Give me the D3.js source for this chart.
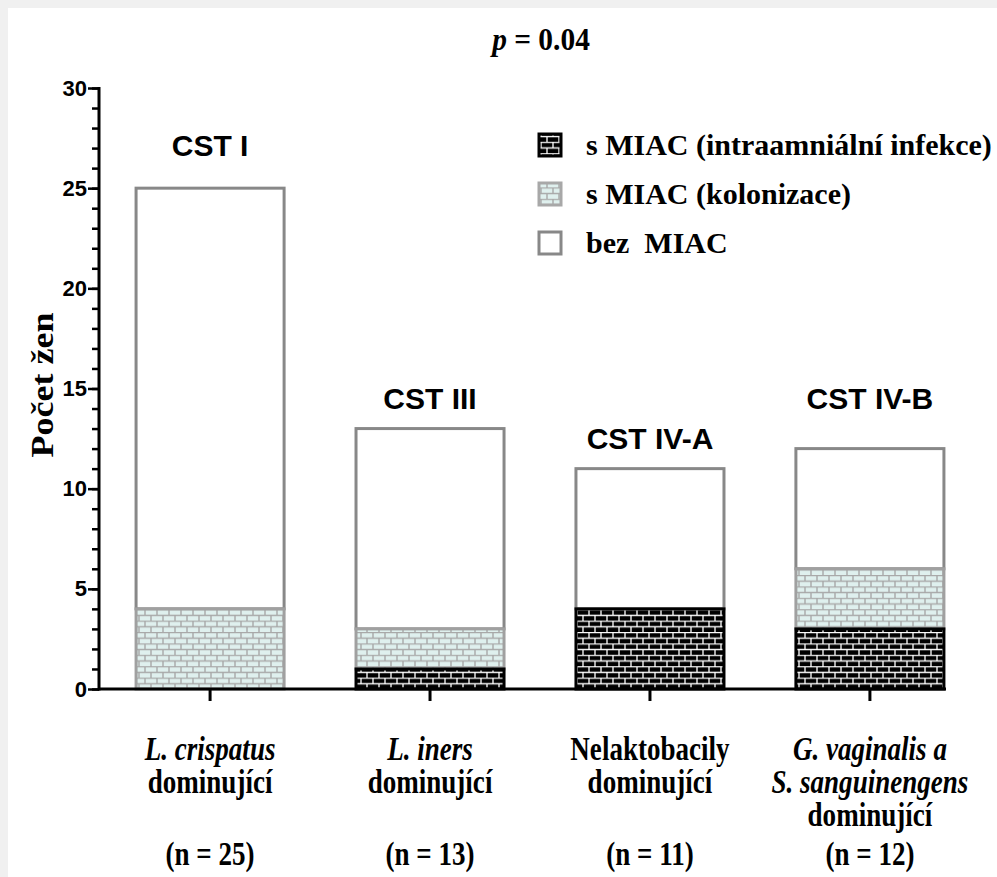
<!DOCTYPE html>
<html>
<head>
<meta charset="utf-8">
<script src="https://cdn.jsdelivr.net/npm/d3@7"></script>
<style>
html,body{margin:0;padding:0;background:#f0f0f0;}
svg{display:block;}
</style>
</head>
<body>
<svg id="chart" width="997" height="877"></svg>
<script>
// ---- data ----
const categories = ["crispatus", "iners", "nelakto", "gvag"];
const intraamnialni = [0, 1, 4, 3];
const kolonizace = [4, 2, 0, 3];
const bezMIAC = [21, 10, 7, 6];
const cstLabels = ["CST I", "CST III", "CST IV-A", "CST IV-B"];
const cstLabelY = [26.6, 14.0, 12.0, 14.0];
const xLabelLines = [
  [[{t:"L. crispatus", i:true}], [{t:"dominující", i:false}], [], [{t:"(n = 25)", i:false}]],
  [[{t:"L. iners", i:true}], [{t:"dominující", i:false}], [], [{t:"(n = 13)", i:false}]],
  [[{t:"Nelaktobacily", i:false}], [{t:"dominující", i:false}], [], [{t:"(n = 11)", i:false}]],
  [[{t:"G. vaginalis a", i:true}], [{t:"S. sanguinengens", i:true}], [{t:"dominující", i:false}], [{t:"(n = 12)", i:false}]]
];
const legendLabels = ["s MIAC (intraamniální infekce)", "s MIAC (kolonizace)", "bez  MIAC"];
const yTicksMajor = [0, 5, 10, 15, 20, 25, 30];

// ---- setup ----
const svg = d3.select("#chart");
svg.append("rect").attr("x", 8).attr("y", 8).attr("width", 989).attr("height", 869).attr("fill", "#fff");

const defs = svg.append("defs");
function brick(id, bg, line, lw) {
  const w = 12, h = 11.4;
  const p = defs.append("pattern").attr("id", id).attr("patternUnits", "userSpaceOnUse")
    .attr("width", w).attr("height", h).attr("x", 0).attr("y", 689);
  p.append("rect").attr("width", w).attr("height", h).attr("fill", bg);
  p.append("path").attr("d", `M0,0.5H${w}M0,${h/2+0.5}H${w}M1,0.5V${h/2+0.5}M${w/2+1},${h/2+0.5}V${h+0.5}`)
    .attr("stroke", line).attr("stroke-width", lw).attr("fill", "none");
}
brick("patBlack", "#000", "#fff", 1.3);
brick("patKol", "#dff0ee", "#a8a8a8", 1.4);

const y = d3.scaleLinear().domain([0, 30]).range([689, 88]);
const x = d3.scaleBand().domain(categories).range([100, 980]).paddingInner(0.327).paddingOuter(0.164);

const serif = "'Liberation Serif','Times New Roman',serif";
const sans = "'Liberation Sans',Arial,sans-serif";

// ---- bars ----
const series = [
  {key: "intra", fill: "url(#patBlack)", stroke: "#000"},
  {key: "kol", fill: "url(#patKol)", stroke: "#a0a0a0"},
  {key: "bez", fill: "#fff", stroke: "#888"}
];
const data = categories.map((c, i) => ({cat: c, intra: intraamnialni[i], kol: kolonizace[i], bez: bezMIAC[i]}));
const stacked = d3.stack().keys(["intra", "kol", "bez"])(data);
[2, 1, 0].forEach(si => {
  const s = series[si];
  svg.append("g").selectAll("rect").data(stacked[si].filter(d => d[1] > d[0])).join("rect")
    .attr("x", d => x(d.data.cat))
    .attr("y", d => y(d[1]))
    .attr("width", x.bandwidth())
    .attr("height", d => y(d[0]) - y(d[1]))
    .attr("fill", s.fill)
    .attr("stroke", s.stroke)
    .attr("stroke-width", 3);
});

// ---- axes ----
const yAxisG = svg.append("g").attr("transform", "translate(99,0)");
yAxisG.call(d3.axisLeft(y).tickValues(d3.range(0, 31, 1)).tickSize(7).tickFormat(""))
  .call(g => g.select(".domain").remove())
  .call(g => g.selectAll("line").attr("stroke", "#000").attr("stroke-width", 2.5));
yAxisG.append("g").call(d3.axisLeft(y).tickValues(yTicksMajor).tickSize(11).tickPadding(1))
  .call(g => g.select(".domain").remove())
  .call(g => g.selectAll("line").attr("stroke", "#000").attr("stroke-width", 2.5))
  .call(g => g.selectAll("text").attr("font-family", sans).attr("font-weight", "bold").attr("font-size", 22).attr("fill", "#000"));
yAxisG.append("line").attr("x1", 0).attr("x2", 0).attr("y1", y(30) - 1).attr("y2", y(0) + 1.5)
  .attr("stroke", "#000").attr("stroke-width", 3);

const xAxisG = svg.append("g").attr("transform", "translate(0,689)");
xAxisG.call(d3.axisBottom(x).tickSize(12).tickFormat(""))
  .call(g => g.select(".domain").remove())
  .call(g => g.selectAll("line").attr("stroke", "#000").attr("stroke-width", 3));
xAxisG.append("line").attr("x1", 98).attr("x2", 946).attr("stroke", "#000").attr("stroke-width", 3);

// ---- x labels ----
const lineY = [760, 793, 826, 865];
categories.forEach((c, i) => {
  const cx = x(c) + x.bandwidth() / 2;
  xLabelLines[i].forEach((parts, li) => {
    if (!parts.length) return;
    const t = svg.append("text").attr("transform", `translate(${cx},${lineY[li]}) scale(0.82,1)`)
      .attr("text-anchor", "middle")
      .attr("font-family", serif).attr("font-weight", "bold").attr("font-size", 33).attr("fill", "#000");
    parts.forEach(p => t.append("tspan").text(p.t).attr("font-style", p.i ? "italic" : "normal"));
  });
});

// ---- CST labels ----
svg.append("g").selectAll("text").data(categories).join("text")
  .attr("x", d => x(d) + x.bandwidth() / 2)
  .attr("y", (d, i) => y(cstLabelY[i]))
  .attr("text-anchor", "middle")
  .attr("font-family", sans).attr("font-weight", "bold").attr("font-size", 30).attr("fill", "#000")
  .text((d, i) => cstLabels[i]);

// ---- y title ----
svg.append("text").attr("transform", "translate(53,385) rotate(-90) scale(1,0.9)").attr("text-anchor", "middle")
  .attr("font-family", serif).attr("font-weight", "bold").attr("font-size", 36).attr("fill", "#000")
  .text("Počet žen");

// ---- p value ----
const pt = svg.append("text").attr("transform", "translate(541,50) scale(0.95,1)").attr("text-anchor", "middle")
  .attr("font-family", serif).attr("font-weight", "bold").attr("font-size", 31).attr("fill", "#000");
pt.append("tspan").attr("font-style", "italic").text("p");
pt.append("tspan").text(" = 0.04");

// ---- legend ----
const legFills = ["url(#patBlack)", "url(#patKol)", "#fff"];
const legStrokes = ["#000", "#a8a8a8", "#888"];
const legY = [145, 194, 243];
legendLabels.forEach((l, i) => {
  svg.append("rect").attr("x", 539).attr("y", legY[i] - 11).attr("width", 22).attr("height", 22)
    .attr("fill", legFills[i]).attr("stroke", legStrokes[i]).attr("stroke-width", 3);
  svg.append("text").attr("x", 586).attr("y", legY[i] + 10).style("white-space", "pre")
    .attr("font-family", serif).attr("font-weight", "bold").attr("font-size", 30).attr("fill", "#000")
    .text(l);
});
</script>
</body>
</html>
